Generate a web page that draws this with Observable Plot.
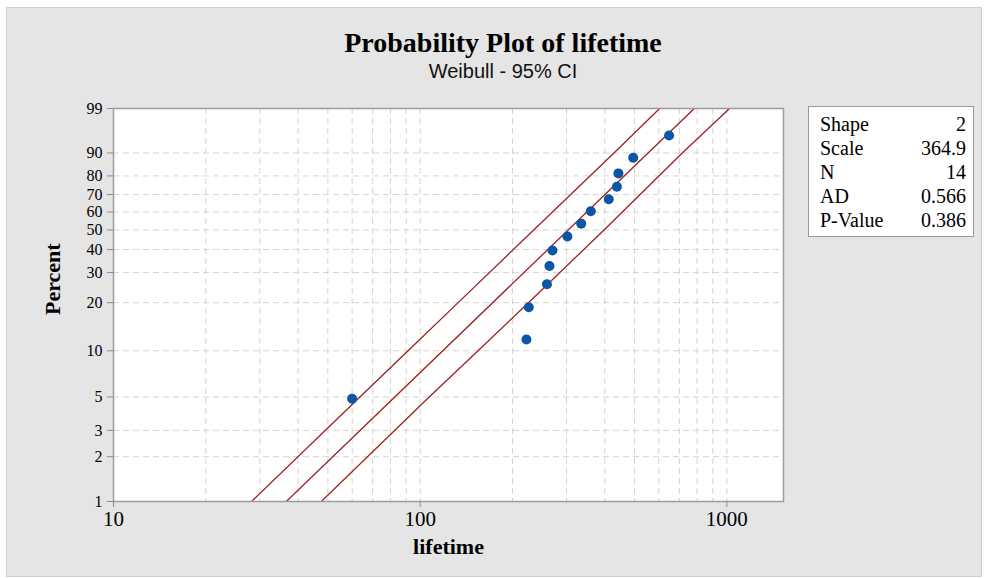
<!DOCTYPE html>
<html><head><meta charset="utf-8">
<script src="https://cdn.jsdelivr.net/npm/d3@7"></script>
<script src="https://cdn.jsdelivr.net/npm/@observablehq/plot@0.6"></script>
<style>
body{margin:0;background:#fff;width:984px;height:578px;overflow:hidden;position:relative;}
#bg{position:absolute;left:6px;top:7px;width:976px;height:570px;background:#e5e5e5;border:1px solid #cfcfcf;box-sizing:border-box;}
#title{position:absolute;left:0;width:1006px;top:27px;text-align:center;font:bold 28px "Liberation Serif",serif;color:#000;}
#subtitle{position:absolute;left:0;width:1006px;top:60px;text-align:center;font:20px "Liberation Sans",sans-serif;color:#111;}
#chart{position:absolute;left:0;top:90px;}
#legend{position:absolute;left:808px;top:106px;width:166px;height:131px;background:#fff;border:1px solid #9a9a9a;box-sizing:border-box;font:20px "Liberation Serif",serif;color:#000;}
#legend table{position:absolute;left:11px;top:5px;width:146px;border-collapse:collapse;}
#legend td{padding:0;height:24px;line-height:24px;}
#legend td.v{text-align:right;}
</style></head>
<body>
<div id="bg"></div>
<div id="title">Probability Plot of lifetime</div>
<div id="subtitle">Weibull - 95% CI</div>
<div id="chart"></div>
<div id="legend"><table id="lt"></table></div>
<script>
// Data points (lifetime, plotted percent)
const lifetime = [60, 222, 226, 259, 264, 270, 302, 335, 360, 412, 438, 443, 495, 648];
const percent = [4.86, 11.81, 18.75, 25.69, 32.64, 39.58, 46.53, 53.47, 60.42, 67.36, 74.31, 81.25, 88.19, 95.14];
// Fitted line (read at 1% and 99%)
const fitPercent = [1, 99];
const fitLifetime = [36.6, 783];
// 95% CI bounds
const ciPercent = [1, 5, 10, 20, 50, 90, 99];
const ciLower = [28.2, 63.6, 91.3, 133.0, 234.5, 428.5, 603.6];
const ciUpper = [47.6, 107, 154.4, 225.5, 397.7, 715.5, 1020];
// Axis ticks
const yTicks = [1, 2, 3, 5, 10, 20, 30, 40, 50, 60, 70, 80, 90, 99];
const yGrid = [2, 3, 5, 10, 20, 30, 40, 50, 60, 70, 80, 90];
const xTicks = [10, 100, 1000];
const xGrid = [20, 30, 40, 50, 60, 70, 80, 90, 100, 200, 300, 400, 500, 600, 700, 800, 900, 1000];
// Legend
const statNames = ["Shape", "Scale", "N", "AD", "P-Value"];
const statValues = ["2", "364.9", "14", "0.566", "0.386"];

const wb = p => Math.log(-Math.log(1 - p / 100));
const pts = lifetime.map((x, i) => ({x, p: percent[i]}));
const fit = fitLifetime.map((x, i) => ({x, p: fitPercent[i]}));
const lo = ciLower.map((x, i) => ({x, p: ciPercent[i]}));
const hi = ciUpper.map((x, i) => ({x, p: ciPercent[i]}));
const red = "#a01e1e";
const gridStyle = {stroke: "#d4d4d4", strokeDasharray: "6,4", strokeWidth: 1};

const chart = Plot.plot({
  width: 800, height: 480,
  marginLeft: 113, marginRight: 17, marginTop: 18, marginBottom: 69,
  style: {background: "transparent", fontFamily: "Liberation Serif, serif", fontSize: "21px", color: "#000", overflow: "visible"},
  x: {type: "log", domain: [10, 1530]},
  y: {type: "linear", domain: [wb(1), wb(99)]},
  marks: [
    Plot.frame({fill: "white"}),
    Plot.ruleY(yGrid, {y: wb, ...gridStyle}),
    Plot.ruleX(xGrid, {x: d => d, ...gridStyle}),
    Plot.line(lo, {x: "x", y: d => wb(d.p), stroke: red, strokeWidth: 1.3, clip: true}),
    Plot.line(fit, {x: "x", y: d => wb(d.p), stroke: red, strokeWidth: 1.3, clip: true}),
    Plot.line(hi, {x: "x", y: d => wb(d.p), stroke: red, strokeWidth: 1.3, clip: true}),
    Plot.dot(pts, {x: "x", y: d => wb(d.p), r: 5, fill: "#0b56a6", stroke: "none"}),
    Plot.frame({stroke: "#9c9c9c", strokeWidth: 1.5}),
    Plot.axisY(yTicks.map(wb), {tickSize: 6, tickPadding: 5, stroke: "#8a8a8a", label: null,
      tickFormat: w => String(yTicks.find(p => Math.abs(wb(p) - w) < 1e-9)), fontSize: 16}),
    Plot.axisX(xTicks, {tickSize: 6, tickPadding: 4, stroke: "#8a8a8a", label: null,
      tickFormat: d => String(d), fontSize: 21}),
    Plot.text(["Percent"], {frameAnchor: "left", dx: -61, dy: 10, rotate: -90, fontWeight: "bold", fontSize: 22}),
    Plot.text(["lifetime"], {frameAnchor: "bottom", dy: 52, fontWeight: "bold", fontSize: 22})
  ]
});
document.getElementById("chart").appendChild(chart);

const lt = document.getElementById("lt");
statNames.forEach((n, i) => {
  const tr = document.createElement("tr");
  tr.innerHTML = `<td>${n}</td><td class="v">${statValues[i]}</td>`;
  lt.appendChild(tr);
});
</script>
</body></html>
